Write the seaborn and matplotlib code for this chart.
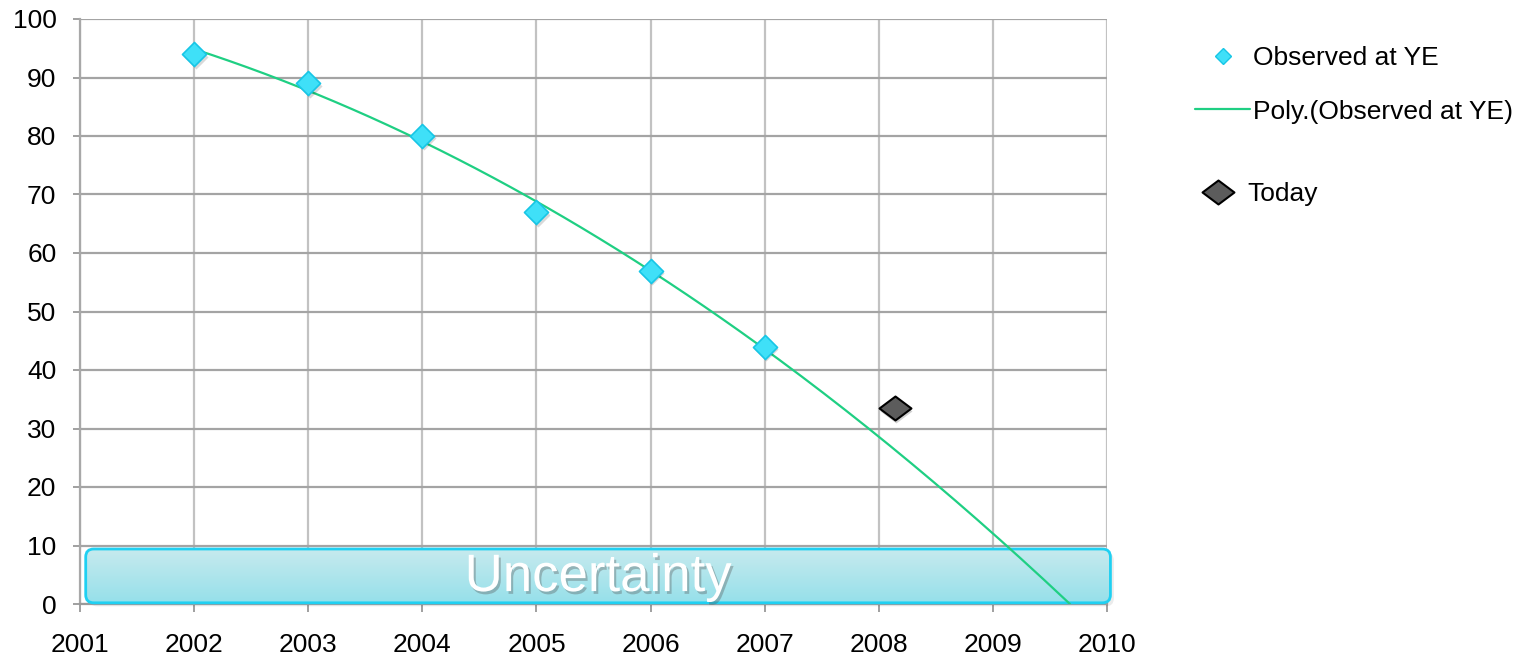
import numpy as np
import pandas as pd
import matplotlib
matplotlib.use("Agg")
import matplotlib.pyplot as plt
import matplotlib.patches as mpatches
import matplotlib.patheffects as pe
from matplotlib.path import Path
from matplotlib.lines import Line2D
import matplotlib.transforms as mtransforms
import seaborn as sns

# =========================
# Data
# =========================
years = [2002, 2003, 2004, 2005, 2006, 2007]
observed = [94, 89, 80, 67, 57, 44]
today_x = [2008.14]
today_y = [33.5]
band_x = [2001.05, 2010.03]
band_y = [0.2, 9.4]
x_ticks = list(range(2001, 2011))
y_ticks = list(range(0, 101, 10))

obs_df = pd.DataFrame({"year": years, "value": observed})
today_df = pd.DataFrame({"year": today_x, "value": today_y})

# order 2 polynomial trend (as the spreadsheet trendline), drawn down to zero
coef = np.polyfit(obs_df["year"] - years[0], obs_df["value"], 2)
roots = np.roots(coef)
end = max(r.real for r in roots if abs(r.imag) < 1e-9)
t = np.linspace(0, end, 200)
trend_df = pd.DataFrame({"year": t + years[0], "value": np.polyval(coef, t)})

# =========================
# Style
# =========================
sns.set_theme(style="whitegrid")
plt.rcParams["font.family"] = ["Liberation Sans", "DejaVu Sans"]

cyan_face = "#3fe0f8"
cyan_edge = "#17c6e6"
green = "#1fcf83"
fs = 19

fig = plt.figure(figsize=(15.26, 6.57), dpi=100)
ax = fig.add_axes([80 / 1526, 1 - 604 / 657, 1027 / 1526, 585 / 657])

# uncertainty band with gradient fill
aspect = (1027 / 9) / (585 / 100)
band = mpatches.FancyBboxPatch(
    (band_x[0], band_y[0]), band_x[1] - band_x[0], band_y[1] - band_y[0],
    boxstyle="round,pad=0,rounding_size=0.07", mutation_aspect=aspect,
    facecolor="none", edgecolor="#1fd0f2", linewidth=2, zorder=4, clip_on=False,
)
shadow = mpatches.FancyBboxPatch(
    (band_x[0] + 0.03, band_y[0] - 0.6), band_x[1] - band_x[0], band_y[1] - band_y[0],
    boxstyle="round,pad=0,rounding_size=0.07", mutation_aspect=aspect,
    facecolor="#000000", alpha=0.08, edgecolor="none", zorder=2, clip_on=False,
)
ax.add_patch(shadow)
ax.add_patch(band)
grad = np.linspace(0, 1, 100).reshape(-1, 1)
cmap = matplotlib.colors.LinearSegmentedColormap.from_list("u", ["#c6eaee", "#96e0ea"])
img = ax.imshow(grad, cmap=cmap, aspect="auto", origin="upper",
                extent=[band_x[0], band_x[1], band_y[0], band_y[1]], zorder=3)
big_box = mtransforms.TransformedBbox(
    mtransforms.Bbox([[2000.5, -5], [2011, 15]]), ax.transData)
img.set_clip_box(big_box)
img.set_clip_path(band)

ax.text(2005.54, 4.6, "Uncertainty", color="white", fontsize=38,
        ha="center", va="center", zorder=6,
        path_effects=[pe.withSimplePatchShadow(offset=(1.5, -2), shadow_rgbFace="#555555", alpha=0.35)])

# trend line
sns.lineplot(data=trend_df, x="year", y="value", color=green, linewidth=1.6,
             ax=ax, zorder=7, sort=False)

# observed markers (with soft shadow)
shadow_tr = mtransforms.offset_copy(ax.transData, fig=fig, x=1.5, y=-2.5, units="dots")
ax.scatter(obs_df["year"], obs_df["value"], marker="D", s=150, color="#000000",
           alpha=0.15, linewidths=0, transform=shadow_tr, zorder=7)
sns.scatterplot(data=obs_df, x="year", y="value", marker="D", s=150,
                color=cyan_face, edgecolor=cyan_edge, linewidth=1.2, ax=ax, zorder=8)

# today marker
flat_diamond = Path([(-1, 0), (0, 0.75), (1, 0), (0, -0.75), (-1, 0)],
                    [Path.MOVETO, Path.LINETO, Path.LINETO, Path.LINETO, Path.CLOSEPOLY])
ax.scatter(today_df["year"], today_df["value"], marker=flat_diamond, s=23 ** 2,
           color="#000000", alpha=0.18, linewidths=0, transform=shadow_tr, zorder=7)
sns.scatterplot(data=today_df, x="year", y="value", marker=flat_diamond, s=23 ** 2,
                color="#5c5c5c", edgecolor="#000000", linewidth=1.5, ax=ax, zorder=8)

# axes
ax.set_xlim(x_ticks[0], x_ticks[-1])
ax.set_ylim(y_ticks[0], y_ticks[-1])
ax.set_xticks(x_ticks)
ax.set_yticks(y_ticks)
ax.set_xlabel("")
ax.set_ylabel("")
ax.xaxis.grid(True, color="#c2c2c2", linewidth=1.6)
ax.yaxis.grid(True, color="#a4a4a4", linewidth=1.6)
ax.set_axisbelow(True)
for side in ["top", "right"]:
    ax.spines[side].set_visible(False)
ax.spines["left"].set_color("#a8a8a8")
ax.spines["left"].set_linewidth(1.6)
ax.spines["bottom"].set_color("#9a9a9a")
ax.spines["bottom"].set_linewidth(1.6)
ax.tick_params(axis="x", bottom=True, length=6, width=1.4, color="#a0a0a0",
               pad=15, labelsize=fs, labelcolor="black")
ax.tick_params(axis="y", left=True, length=5, width=1.4, color="#a0a0a0",
               pad=12, labelsize=fs, labelcolor="black")
ax.patch.set_facecolor("white")

# legends
h_obs = Line2D([], [], linestyle="none", marker="D", markersize=8,
               markerfacecolor=cyan_face, markeredgecolor=cyan_edge)
h_poly = Line2D([], [], color=green, linewidth=1.6)
leg1 = fig.legend([h_obs, h_poly], ["Observed at YE", "Poly.(Observed at YE)"],
                  loc="center left", bbox_to_anchor=(1195 / 1526, 1 - 85 / 657),
                  frameon=False, fontsize=fs, handlelength=2.1, handletextpad=0.1,
                  labelspacing=1.1, borderpad=0, borderaxespad=0, labelcolor="black")
h_today = Line2D([], [], linestyle="none", marker=flat_diamond, markersize=23,
                 markerfacecolor="#5c5c5c", markeredgecolor="#000000", markeredgewidth=1.5)
leg2 = fig.legend([h_today], ["Today"], loc="center left",
                  bbox_to_anchor=(1197 / 1526, 1 - 194 / 657), frameon=False,
                  fontsize=fs, handlelength=1.6, handletextpad=0.3,
                  borderpad=0, borderaxespad=0, labelcolor="black")

fig.savefig("out.png", dpi=100, facecolor="white")
